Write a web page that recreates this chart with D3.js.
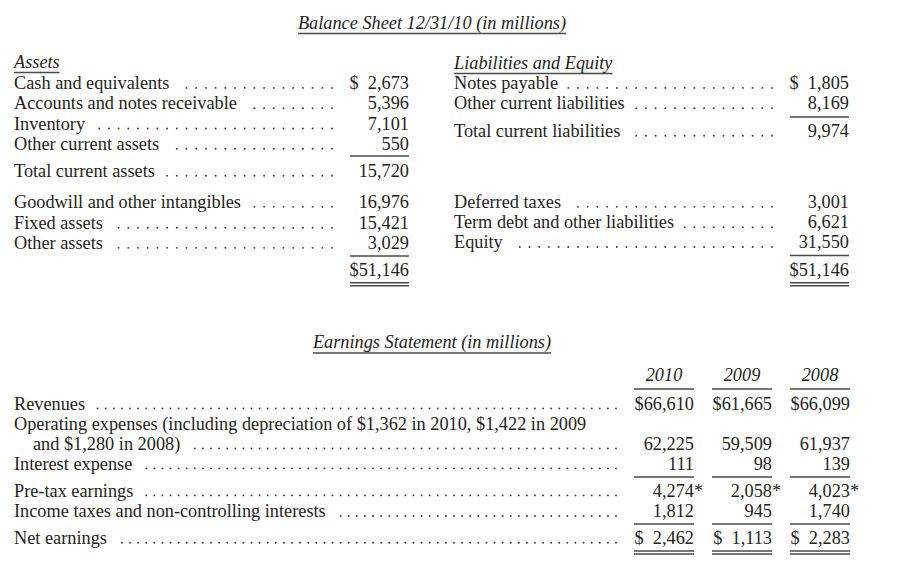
<!DOCTYPE html>
<html><head><meta charset="utf-8">
<script src="https://cdn.jsdelivr.net/npm/d3@7/dist/d3.min.js"></script>
<style>
html,body{margin:0;padding:0;background:#fff;}
text{font-family:"Liberation Serif","Times New Roman",serif;font-size:18.3px;fill:#231f20;}
</style></head>
<body><svg id="c" width="917" height="572"></svg>
<script>
// ---------- DATA ----------
const bsTitle = "Balance Sheet 12/31/10 (in millions)";
const esTitle = "Earnings Statement (in millions)";
const assetsHeader = "Assets";
const assetLabels = ["Cash and equivalents","Accounts and notes receivable","Inventory","Other current assets","Total current assets","Goodwill and other intangibles","Fixed assets","Other assets"];
const assetValues = [2673,5396,7101,550,15720,16976,15421,3029];
const assetTotal = 51146;
const liabHeader = "Liabilities and Equity";
const liabLabels = ["Notes payable","Other current liabilities","Total current liabilities","Deferred taxes","Term debt and other liabilities","Equity"];
const liabValues = [1805,8169,9974,3001,6621,31550];
const liabTotal = 51146;
const years = ["2010","2009","2008"];
const earnLabels = [["Revenues"],["Operating expenses (including depreciation of $1,362 in 2010, $1,422 in 2009","and $1,280 in 2008)"],["Interest expense"],["Pre-tax earnings"],["Income taxes and non-controlling interests"],["Net earnings"]];
const earn2010 = [66610,62225,111,4274,1812,2462];
const earn2009 = [61665,59509,98,2058,945,1113];
const earn2008 = [66099,61937,139,4023,1740,2283];
const earnStar = [false,false,false,true,false,false];

// ---------- RENDER ----------
const svg = d3.select("#c");
const fmt = d3.format(",");
const LINE = "#4a4a4a";
const FS = "\u2007"; // figure space

function hline(x1,x2,y,w){
  svg.append("line").attr("x1",x1).attr("x2",x2).attr("y1",y).attr("y2",y)
    .attr("stroke",LINE).attr("stroke-width",w||1.3);
}
function leaders(x0,xEnd,y,step,gap){
  const xs=[];
  for(let x=xEnd; x>x0+gap; x-=step) xs.push(x);
  svg.append("g").selectAll("circle").data(xs).join("circle")
    .attr("cx",d=>d).attr("cy",y-1.1).attr("r",0.95).attr("fill","#3a3a3a");
}
function italicTitle(txt,cx,y,ul){
  const t=svg.append("text").attr("x",cx).attr("y",y).attr("text-anchor","middle")
    .style("font-style","italic").text(txt);
  const w=t.node().getComputedTextLength();
  hline(cx-w/2,cx+w/2,y+ul,1.4);
}
function leftHeader(txt,x,y){
  const t=svg.append("text").attr("x",x).attr("y",y).style("font-style","italic").text(txt);
  const w=t.node().getComputedTextLength();
  hline(x,x+w,y+4.5,1.4);
}

// Titles
italicTitle(bsTitle,432,29,4.5);
italicTitle(esTitle,432,348,5);

// Balance sheet row scale (slot -> baseline)
const yRow = d3.scaleLinear().domain([0,1]).range([89,109.3]);

function bsColumn(labels,values,slots,xL,dotEnd,valRight,dollarIdx,total,totalSlot,lineYs){
  labels.forEach((lab,i)=>{
    const y=yRow(slots[i]);
    const t=svg.append("text").attr("x",xL).attr("y",y).text(lab);
    leaders(xL+t.node().getComputedTextLength(),dotEnd,y,9.7,9);
    svg.append("text").attr("x",valRight).attr("y",y).attr("text-anchor","end")
      .text((i===dollarIdx?"$"+FS:"")+fmt(values[i]));
  });
  const yT=yRow(totalSlot);
  svg.append("text").attr("x",valRight).attr("y",yT).attr("text-anchor","end").text("$"+fmt(total));
  lineYs.forEach(ly=>hline(valRight-59,valRight,ly));
  hline(valRight-59,valRight,yT+7,1.3);
  hline(valRight-59,valRight,yT+10,1.3);
}

leftHeader(assetsHeader,14,68);
bsColumn(assetLabels,assetValues,[0,1,2,3,4.33,5.86,6.89,7.88],14,332,409,0,assetTotal,9.2,[156,256]);

leftHeader(liabHeader,454,69);
bsColumn(liabLabels,liabValues,[0,1,2.36,5.86,6.86,7.84],454,772,849,0,liabTotal,9.2,[117,255.5]);

// Earnings statement
const xCol = d3.scalePoint().domain(years).range([664,820]);
const half = 30;
years.forEach(yr=>{
  svg.append("text").attr("x",xCol(yr)).attr("y",381).attr("text-anchor","middle")
    .style("font-style","italic").text(yr);
  hline(xCol(yr)-half,xCol(yr)+half,389);
});
const yE = d3.scaleLinear().domain([0,1]).range([409.5,429.5]);
const eSlots = [[0],[1,2],[3],[4.35],[5.38],[6.72]];
const series = [earn2010,earn2009,earn2008];
earnLabels.forEach((lines,i)=>{
  lines.forEach((ln,j)=>{
    const y=yE(eSlots[i][j]);
    const x = j===0?14:33;
    const t=svg.append("text").attr("x",x).attr("y",y).text(ln);
    if(j===lines.length-1) leaders(x+t.node().getComputedTextLength(),616,y,8.1,11);
  });
  const y=yE(eSlots[i][lines.length-1]);
  years.forEach((yr,k)=>{
    const v=series[k][i];
    let s=fmt(v);
    if(i===0) s="$"+s;
    if(i===earnLabels.length-1) s="$"+FS+s;
    svg.append("text").attr("x",xCol(yr)+half).attr("y",y).attr("text-anchor","end").text(s);
    if(earnStar[i]) svg.append("text").attr("x",xCol(yr)+half).attr("y",y).text("*");
  });
});
years.forEach(yr=>{
  const a=xCol(yr)-half,b=xCol(yr)+half;
  hline(a,b,477); hline(a,b,524); hline(a,b,551); hline(a,b,554);
});
</script></body></html>
